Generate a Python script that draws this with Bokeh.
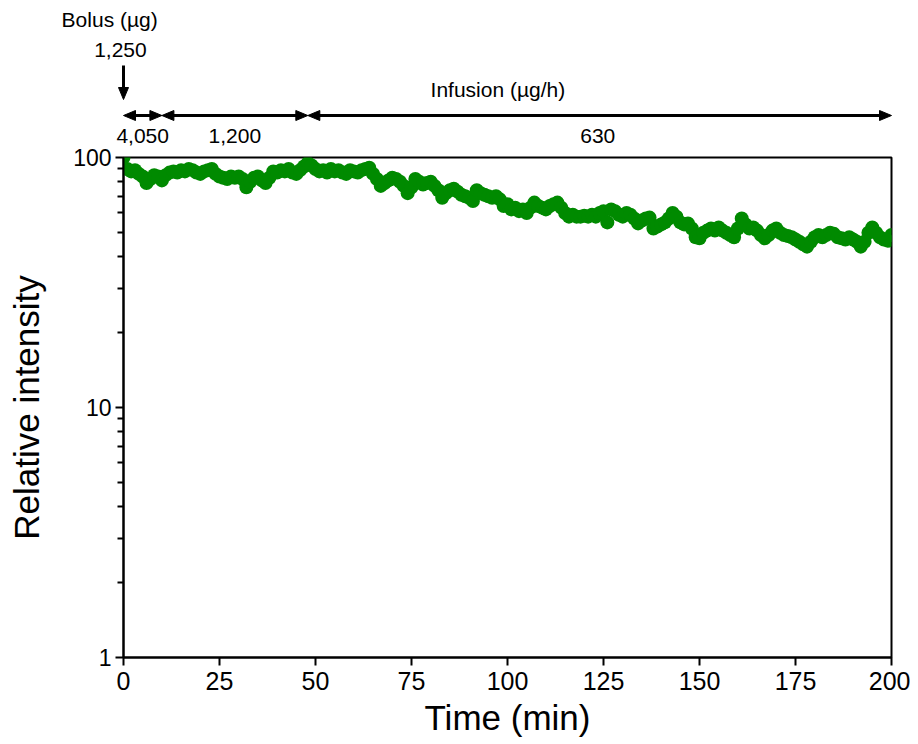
from bokeh.plotting import figure
from bokeh.layouts import column, row
from bokeh.models import Range1d, FixedTicker, PrintfTickFormatter, ColumnDataSource
from bokeh.core.properties import value
from bokeh.embed import file_html
from bokeh.resources import INLINE

# ---- data ----
time_min = list(range(0, 201))
intensity = [
    100, 90, 88, 89, 86, 84, 79, 82, 85, 84,
    81, 85, 87, 88, 87, 89, 88, 90, 89, 87,
    86, 88, 89, 90, 86, 84, 83, 82, 84, 83,
    84, 82, 76, 80, 83, 84, 81, 79, 83, 88,
    87, 89, 88, 90, 87, 86, 89, 92, 95, 93,
    90, 88, 89, 87, 90, 88, 89, 87, 86, 89,
    88, 87, 89, 90, 91, 86, 82, 77, 79, 81,
    83, 82, 80, 77, 72, 76, 82, 80, 78, 79,
    80, 77, 74, 69, 72, 74, 75, 73, 71, 70,
    69, 67, 74, 72, 71, 70, 69, 70, 68, 64,
    65, 62, 63, 61, 62, 60, 63, 66, 64, 63,
    62, 64, 65, 66, 63, 60, 58, 59, 58, 58,
    58.5, 58, 59, 58, 60, 61, 55, 62, 61, 59,
    58, 60, 59, 57, 54.5, 56, 57, 57.5, 52, 53,
    54, 55, 57, 60, 58, 55, 54, 54.5, 52, 48,
    47.5, 50, 51, 52, 51, 52.5, 51, 50, 49, 48,
    52, 57, 54, 52, 52.5, 51, 49, 47.5, 49, 51,
    52, 50, 49, 48.5, 48, 47, 46, 45, 44, 46,
    48, 49, 48, 49, 50, 49.5, 48, 47.5, 47, 48,
    47, 46, 44, 46, 50, 52.5, 50, 48, 47, 46.5,
    49,
]
x_ticks = [0, 25, 50, 75, 100, 125, 150, 175, 200]
y_ticks = [1, 10, 100]
y_minor = [2, 3, 4, 5, 6, 7, 8, 9, 20, 30, 40, 50, 60, 70, 80, 90]

# dosing schedule (minutes)
bolus_time = 0
bolus_labels = ["Bolus (µg)", "1,250"]
phase_edges = [0, 10, 48, 200]
phase_labels = ["4,050", "1,200", "630"]
infusion_label = "Infusion (µg/h)"

FONT = "Liberation Sans"
GREEN = "#008A00"

# ---- geometry (pixels) ----
LEFT, RIGHT = 123, 19
FW, FH = 768, 500
TOP = 157           # distance from canvas top to frame top
MAIN_TOP = 11       # part of it that belongs to the main figure
PX_PER_MIN = FW / 200.0

# ---------------- annotation band ----------------
xr_top = Range1d(-LEFT / PX_PER_MIN, 200 + RIGHT / PX_PER_MIN)
top = figure(frame_width=LEFT + FW + RIGHT, frame_height=TOP - MAIN_TOP,
             x_range=xr_top, y_range=Range1d(MAIN_TOP, TOP),
             output_backend="svg", toolbar_location=None,
             min_border=0, min_border_left=0, min_border_right=0,
             min_border_top=0, min_border_bottom=0)
top.axis.visible = False
top.grid.visible = False
top.outline_line_color = None

HL = 12 / PX_PER_MIN   # head length in minutes
HW = 5                 # half head width in px
ARROW_Y = 42

xs0, xs1, hx, hy = [], [], [], []
for a, b in zip(phase_edges[:-1], phase_edges[1:]):
    xs0.append(a + HL * 0.8)
    xs1.append(b - HL * 0.8)
    hx.append([a, a + HL, a + HL])
    hy.append([ARROW_Y, ARROW_Y + HW, ARROW_Y - HW])
    hx.append([b, b - HL, b - HL])
    hy.append([ARROW_Y, ARROW_Y + HW, ARROW_Y - HW])
top.segment(x0=xs0, y0=[ARROW_Y] * len(xs0), x1=xs1, y1=[ARROW_Y] * len(xs1),
            line_width=3, line_color="black")
top.patches(hx, hy, fill_color="black", line_color="black", line_width=1)

top.segment(x0=[bolus_time], y0=[92], x1=[bolus_time], y1=[67],
            line_width=3, line_color="black")
bw = HW / PX_PER_MIN
top.patches([[bolus_time, bolus_time - bw, bolus_time + bw]], [[58, 70, 70]],
            fill_color="black", line_color="black", line_width=1)

mids = [(a + b) / 2.0 for a, b in zip(phase_edges[:-1], phase_edges[1:])]
mids[2] = mids[2] - 0.5
tx = mids + [(phase_edges[2] + phase_edges[3]) / 2.0 - 26.5, -3.6, -0.8]
ty = [22, 22, 22, 68, 138, 108]
tt = phase_labels + [infusion_label] + bolus_labels
top.text(x=tx, y=ty, text=tt, text_font=value(FONT), text_font_size="21px",
         text_align="center", text_baseline="middle", text_color="black")

# ---------------- main plot ----------------
p = figure(frame_width=FW, frame_height=FH,
           x_range=Range1d(0, 200), y_range=Range1d(1, 100),
           y_axis_type="log", output_backend="svg", toolbar_location=None,
           min_border_left=LEFT, min_border_right=RIGHT,
           min_border_top=MAIN_TOP, min_border_bottom=60)

p.outline_line_color = "black"
p.outline_line_width = 2
p.outline_line_alpha = 1
p.xgrid.visible = False
p.ygrid.visible = False

src = ColumnDataSource(dict(t=time_min, v=intensity))
p.scatter("t", "v", source=src, size=14, fill_color=GREEN, line_color=None)

xa = p.xaxis[0]
xa.ticker = FixedTicker(ticks=x_ticks, minor_ticks=[])
xa.axis_label = "Time (min)"
ya = p.yaxis[0]
ya.ticker = FixedTicker(ticks=y_ticks, minor_ticks=y_minor)
ya.formatter = PrintfTickFormatter(format="%d")
ya.axis_label = "Relative intensity"

for ax in (xa, ya):
    ax.axis_line_color = "black"
    ax.axis_line_width = 2
    ax.major_tick_line_color = "black"
    ax.major_tick_line_width = 2
    ax.major_tick_out = 8
    ax.major_tick_in = 0
    ax.minor_tick_line_color = "black"
    ax.minor_tick_line_width = 2
    ax.minor_tick_out = 6
    ax.minor_tick_in = 0
    ax.major_label_text_font = FONT
    ax.major_label_text_color = "black"
    ax.axis_label_text_font = FONT
    ax.axis_label_text_font_style = "normal"
    ax.axis_label_text_color = "black"
    ax.axis_label_text_font_size = "35px"

xa.major_label_text_font_size = "25px"
xa.major_label_standoff = 6
xa.axis_label_standoff = 5
ya.major_label_text_font_size = "23px"
ya.major_label_standoff = 4
ya.axis_label_standoff = 24

layout = column(row(top), p, spacing=0)
open("out.html", "w").write(file_html(layout, INLINE))
